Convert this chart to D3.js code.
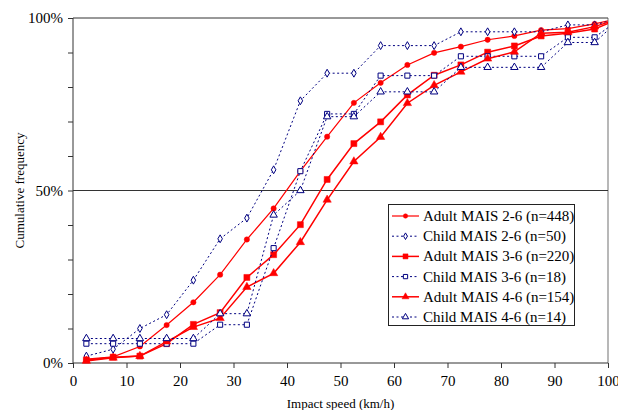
<!DOCTYPE html>
<html>
<head>
<meta charset="utf-8">
<script src="https://cdn.jsdelivr.net/npm/d3@7"></script>
<style>
    body { margin: 0; background: #fff; }
    svg { display: block; font-family: "Liberation Serif", "Times New Roman", serif; }
    .axis path, .axis line { stroke: #333; }
    .axis text { font-size: 15px; fill: #000; font-family: "Liberation Serif", serif; }
</style>
</head>
<body>
<div id="chart"></div>
<script>
// impact speed bins (km/h), last one lies past the plot edge
const speeds = [2.5, 7.5, 12.5, 17.5, 22.5, 27.5, 32.5, 37.5, 42.5, 47.5, 52.5,
                57.5, 62.5, 67.5, 72.5, 77.5, 82.5, 87.5, 92.5, 97.5, 102.5];

const adult26 = [1.1, 1.8, 4.8, 11.0, 17.6, 25.6, 35.8, 44.8, 55.6, 65.6, 75.4,
                 81.2, 86.4, 89.9, 91.7, 93.7, 94.8, 96.5, 96.9, 98.3, 100];
const child26 = [2, 4, 10, 14, 24, 36, 42, 56, 76, 84, 84,
                 92, 92, 92, 96, 96, 96, 96, 98, 98, 100];
const adult36 = [0.9, 1.7, 2.0, 5.6, 11.2, 14.6, 24.8, 31.4, 40.1, 53.2, 63.6,
                 69.9, 77.7, 83.4, 86.4, 90.1, 91.9, 94.8, 95.6, 96.8, 100];
const child36 = [5.6, 5.6, 5.6, 5.6, 5.6, 11.1, 11.1, 33.3, 55.6, 72.2, 72.2,
                 83.3, 83.3, 83.3, 88.9, 88.9, 88.9, 88.9, 94.4, 94.4, 100];
const adult46 = [0.6, 1.5, 2.0, 6.2, 10.4, 13.0, 22.0, 26.0, 35.0, 47.3, 58.4,
                 65.5, 75.3, 80.5, 84.4, 88.2, 90.2, 95.6, 95.9, 97.5, 100];
const child46 = [7.1, 7.1, 7.1, 7.1, 7.1, 14.3, 14.3, 42.9, 50, 71.4, 71.4,
                 78.6, 78.6, 78.6, 85.7, 85.7, 85.7, 85.7, 92.9, 92.9, 100];

const seriesNames = ['Adult MAIS 2-6 (n=448)', 'Child MAIS 2-6 (n=50)',
                     'Adult MAIS 3-6 (n=220)', 'Child MAIS 3-6 (n=18)',
                     'Adult MAIS 4-6 (n=154)', 'Child MAIS 4-6 (n=14)'];

const xTicks = [0, 10, 20, 30, 40, 50, 60, 70, 80, 90, 100];
const yTicks = [0, 10, 20, 30, 40, 50, 60, 70, 80, 90, 100];
const yTickLabels = {0: '0%', 50: '50%', 100: '100%'};
const gridValues = [50, 100];

const xTitle = 'Impact speed (km/h)';
const yTitle = 'Cumulative frequency';

const width = 618, height = 410;
const margin = {top: 18, right: 10, bottom: 47, left: 73};

const RED = '#ff0000';
const NAVY = '#000080';

// style of each series, same order as seriesNames
const styles = [
    {values: adult26, adult: true,  shape: d3.symbolCircle,   size: 22, width: 1.2},
    {values: child26, adult: false, shape: d3.symbolDiamond,  size: 18},
    {values: adult36, adult: true,  shape: d3.symbolSquare,   size: 36, width: 1.5},
    {values: child36, adult: false, shape: d3.symbolSquare,   size: 26},
    {values: adult46, adult: true,  shape: d3.symbolTriangle, size: 30, width: 1.5},
    {values: child46, adult: false, shape: d3.symbolTriangle, size: 24}
];

const svg = d3.select('#chart').append('svg')
    .attr('width', width)
    .attr('height', height);

const x = d3.scaleLinear().domain([0, 100]).range([margin.left, width - margin.right]);
const y = d3.scaleLinear().domain([0, 100]).range([height - margin.bottom, margin.top]);

svg.append('defs').append('clipPath').attr('id', 'plot-clip')
    .append('rect')
        .attr('x', x(0))
        .attr('y', 0)
        .attr('width', x(100) - x(0))
        .attr('height', height);

// right border of the plot area
svg.append('line')
    .attr('x1', x(100)).attr('x2', x(100))
    .attr('y1', y(100)).attr('y2', y(0))
    .attr('stroke', '#a0a0a0')
    .attr('stroke-width', 1.5);

// horizontal gridlines
svg.append('g').selectAll('line')
    .data(gridValues)
    .join('line')
        .attr('x1', x(0)).attr('x2', x(100))
        .attr('y1', d => y(d)).attr('y2', d => y(d))
        .attr('stroke', '#333')
        .attr('stroke-width', 1);

// axes
svg.append('g')
    .attr('class', 'axis')
    .attr('transform', 'translate(' + x(0) + ',0)')
    .call(d3.axisLeft(y).tickValues(yTicks).tickSize(5).tickPadding(5)
        .tickFormat(d => yTickLabels[d] || ''))
    .call(g => g.select('.domain').attr('d', 'M0,' + y(100) + 'V' + y(0)));

svg.append('g')
    .attr('class', 'axis')
    .attr('transform', 'translate(0,' + y(0) + ')')
    .call(d3.axisBottom(x).tickValues(xTicks).tickSize(5).tickPadding(7))
    .call(g => g.select('.domain').attr('d', 'M' + x(0) + ',0H' + x(100)));

// axis titles
svg.append('text')
    .attr('x', (x(0) + x(100)) / 2)
    .attr('y', 408)
    .attr('text-anchor', 'middle')
    .attr('font-size', 13)
    .text(xTitle);

svg.append('text')
    .attr('transform', 'translate(24,' + y(50) + ') rotate(-90)')
    .attr('text-anchor', 'middle')
    .attr('font-size', 13)
    .text(yTitle);

// series
const plot = svg.append('g').attr('clip-path', 'url(#plot-clip)');

const line = d3.line()
    .x(d => x(d[0]))
    .y(d => y(d[1]));

function strokeOf(s) {
    return s.adult ? RED : NAVY;
}

styles.forEach(s => {
    const pts = speeds.map((v, i) => [v, s.values[i]]);
    const g = plot.append('g');

    g.append('path')
        .datum(pts)
        .attr('fill', 'none')
        .attr('stroke', strokeOf(s))
        .attr('stroke-width', s.adult ? s.width : 1)
        .attr('stroke-dasharray', s.adult ? null : '2,2.5')
        .attr('d', line);

    g.selectAll('path.mark')
        .data(pts)
        .join('path')
            .attr('class', 'mark')
            .attr('transform', d => 'translate(' + x(d[0]) + ',' + y(d[1]) + ')')
            .attr('d', d3.symbol().type(s.shape).size(s.size))
            .attr('fill', s.adult ? RED : '#fff')
            .attr('stroke', strokeOf(s))
            .attr('stroke-width', s.adult ? 0.5 : 1);
});

// legend
const legend = svg.append('g').attr('transform', 'translate(388,204)');

legend.append('rect')
    .attr('x', 0.5).attr('y', 0.5)
    .attr('width', 186).attr('height', 121)
    .attr('fill', '#fff')
    .attr('stroke', '#222')
    .attr('stroke-width', 1);

const rowHeight = 20.2;
const rows = legend.selectAll('g.row')
    .data(styles)
    .join('g')
        .attr('class', 'row')
        .attr('transform', (d, i) => 'translate(0,' + (12 + i * rowHeight) + ')');

rows.append('line')
    .attr('x1', 4).attr('x2', 31)
    .attr('stroke', d => strokeOf(d))
    .attr('stroke-width', d => d.adult ? d.width : 1)
    .attr('stroke-dasharray', d => d.adult ? null : '2,2.5');

rows.append('path')
    .attr('transform', 'translate(17.5,0)')
    .attr('d', d => d3.symbol().type(d.shape).size(d.size * 0.7)())
    .attr('fill', d => d.adult ? RED : '#fff')
    .attr('stroke', d => strokeOf(d))
    .attr('stroke-width', d => d.adult ? 0.5 : 1);

rows.append('text')
    .attr('x', 35)
    .attr('dy', '0.33em')
    .attr('font-size', 15)
    .text((d, i) => seriesNames[i]);
</script>
</body>
</html>
